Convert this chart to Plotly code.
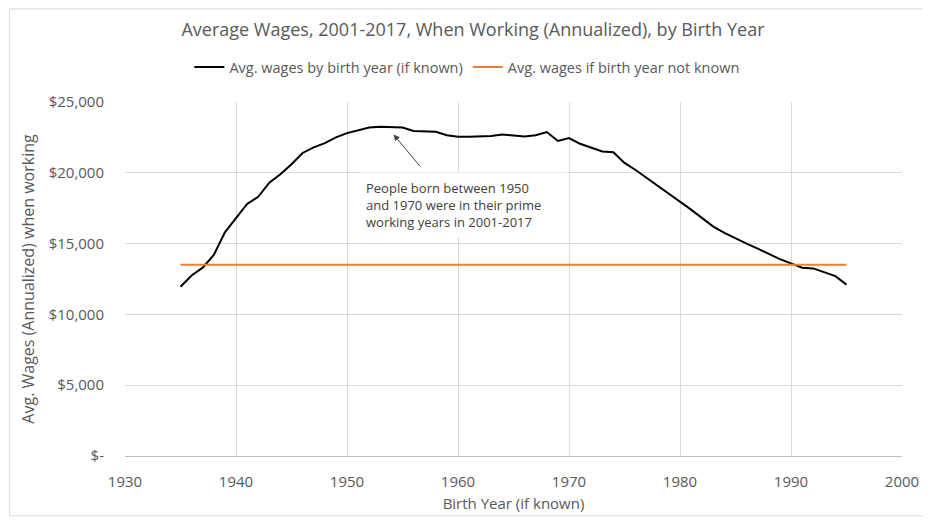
import plotly.graph_objects as go

# Average wages by birth year
birth_years = list(range(1935, 1996))
avg_wages = [
    11950, 12750, 13300, 14200, 15800, 16800, 17800, 18300, 19300, 19900,
    20600, 21400, 21800, 22100, 22500, 22800, 23000, 23200, 23250, 23250,
    23200, 22950, 22950, 22900, 22650, 22550, 22550, 22580, 22600, 22700,
    22620, 22560, 22650, 22880, 22250, 22450, 22050, 21800, 21500, 21450,
    20700, 20200, 19650, 19050, 18500, 17950, 17400, 16800, 16200, 15750,
    15350, 15000, 14650, 14250, 13900, 13600, 13300, 13250, 12950, 12700,
    12100,
]

# Flat reference line when birth year is unknown
unknown_years = [1935, 1995]
unknown_wage = [13500, 13500]

y_ticks = [0, 5000, 10000, 15000, 20000, 25000]
y_tick_text = ["$-", "$5,000", "$10,000", "$15,000", "$20,000", "$25,000"]
x_ticks = [1930, 1940, 1950, 1960, 1970, 1980, 1990, 2000]

FONT = "Open Sans"
GREY = "#595959"

fig = go.Figure()

fig.add_trace(go.Scatter(
    x=birth_years, y=avg_wages, mode="lines",
    name="Avg. wages by birth year (if known)",
    line=dict(color="#000000", width=2),
))
fig.add_trace(go.Scatter(
    x=unknown_years, y=unknown_wage, mode="lines",
    name="Avg. wages if birth year not known",
    line=dict(color="#ED7D31", width=2),
))

# note box + arrow pointing at the peak
fig.add_annotation(
    x=1951.1, y=17750, xref="x", yref="y",
    xanchor="left", yanchor="middle", align="left",
    text="People born between 1950<br>and 1970 were in their prime<br>working years in 2001-2017",
    showarrow=False, bgcolor="white", borderpad=6, width=194,
    font=dict(family=FONT, size=13, color="#404040"),
)
fig.add_annotation(
    x=1954.2, y=22700, ax=1956.7, ay=20350,
    xref="x", yref="y", axref="x", ayref="y",
    text="", showarrow=True, arrowhead=2, arrowsize=1.2,
    arrowwidth=1, arrowcolor="#404040",
)

# outer chart border (right side sits outside the picture, as in the source)
fig.add_shape(
    type="rect", xref="paper", yref="paper",
    x0=-0.1486, x1=1.06, y0=-0.169, y1=1.263,
    line=dict(color="#d9d9d9", width=1), layer="below",
)

fig.update_layout(
    width=923, height=514,
    margin=dict(l=117, r=22, t=94, b=65),
    paper_bgcolor="white", plot_bgcolor="white",
    font=dict(family=FONT, size=13, color=GREY),
    title=dict(
        text="Average Wages, 2001-2017, When Working (Annualized), by Birth Year",
        x=465 / 923, xref="container", xanchor="center",
        y=1 - 22 / 514, yref="container", yanchor="middle",
        font=dict(family=FONT, size=18, color=GREY),
    ),
    legend=dict(
        orientation="h", x=0.44, xanchor="center", y=1.0986, yanchor="middle",
        font=dict(family=FONT, size=14.5, color=GREY),
        bgcolor="rgba(0,0,0,0)",
    ),
    showlegend=True,
)

fig.update_xaxes(
    range=[1930, 2000], tickvals=x_ticks,
    showgrid=True, gridcolor="#d9d9d9", gridwidth=1,
    showline=True, linecolor="#bfbfbf", linewidth=1,
    zeroline=False, ticks="", ticklabelstandoff=12,
    title=dict(text="Birth Year (if known)", standoff=8,
               font=dict(family=FONT, size=15, color=GREY)),
    tickfont=dict(family=FONT, size=15, color=GREY),
)
fig.update_yaxes(
    range=[0, 25000], tickvals=y_ticks, ticktext=y_tick_text,
    showgrid=True, gridcolor="#d9d9d9", gridwidth=1,
    showline=False, zeroline=False, ticks="", ticklabelstandoff=20,
    title=dict(text="Avg. Wages (Annualized) when working", standoff=10,
               font=dict(family=FONT, size=16, color=GREY)),
    tickfont=dict(family=FONT, size=15, color=GREY),
)

fig.write_html("out.html")
